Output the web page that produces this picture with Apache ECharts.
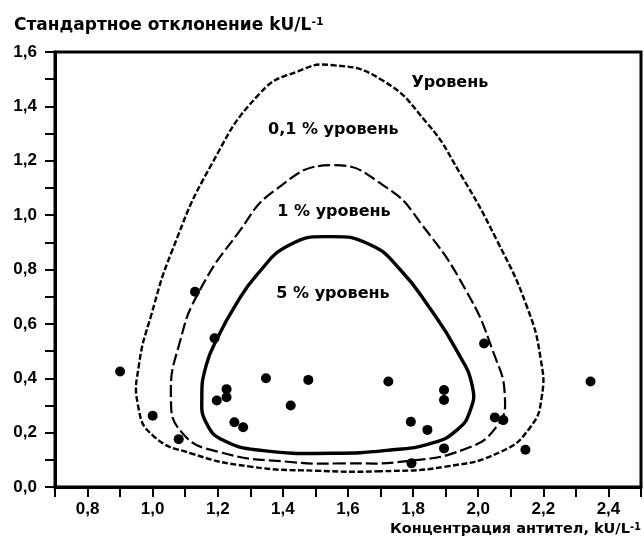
<!DOCTYPE html>
<html>
<head>
<meta charset="utf-8">
<script src="https://cdn.jsdelivr.net/npm/echarts@6/dist/echarts.min.js"></script>
<style>
  * { margin: 0; padding: 0; }
  body { background: #fff; }
  #main { width: 644px; height: 545px; }
</style>
</head>
<body>
<div id="main"></div>
<script>
// точки: концентрация антител / стандартное отклонение
var pointsX = [0.90, 1.00, 1.08, 1.13, 1.19, 1.227, 1.227, 1.197, 1.251, 1.278, 1.348, 1.478, 1.424,
  1.724, 1.895, 1.895, 1.793, 1.844, 1.895, 1.795, 2.018, 2.051, 2.077, 2.145, 2.345];
var pointsY = [0.425, 0.262, 0.176, 0.718, 0.547, 0.36, 0.33, 0.318, 0.238, 0.22, 0.40, 0.394, 0.30,
  0.388, 0.357, 0.32, 0.24, 0.21, 0.142, 0.087, 0.528, 0.256, 0.246, 0.137, 0.388];

// контур 0,1 % (замкнутый)
var outerX = [1.7, 1.5, 1.3, 1.12, 1.0, 0.955, 0.958, 0.995, 1.06, 1.176, 1.33, 1.448, 1.548,
  1.70, 1.843, 1.944, 2.057, 2.15, 2.192, 2.195, 2.16, 2.07, 1.9];
var outerY = [0.058, 0.06, 0.075, 0.123, 0.19, 0.30, 0.45, 0.63, 0.87, 1.176, 1.449, 1.53, 1.552,
  1.50, 1.338, 1.154, 0.908, 0.662, 0.47, 0.33, 0.22, 0.13, 0.075];

// контур 1 %
var midX = [1.59, 1.422, 1.2, 1.09, 1.056, 1.085, 1.145, 1.26, 1.376, 1.55,
  1.72, 1.83, 1.962, 2.045, 2.082, 2.055, 1.96, 1.78];
var midY = [0.087, 0.092, 0.13, 0.2, 0.33, 0.54, 0.724, 0.93, 1.092, 1.184,
  1.10, 0.96, 0.724, 0.5, 0.33, 0.22, 0.14, 0.095];

// контур 5 %
var innerX = [1.55, 1.34, 1.22, 1.165, 1.151, 1.165, 1.2, 1.25, 1.32, 1.42, 1.545,
  1.67, 1.76, 1.85, 1.935, 1.982, 1.975, 1.935, 1.86, 1.73];
var innerY = [0.124, 0.134, 0.17, 0.235, 0.33, 0.45, 0.55, 0.66, 0.78, 0.89, 0.921,
  0.89, 0.80, 0.66, 0.50, 0.37, 0.28, 0.21, 0.162, 0.136];

var levelNames = ['Уровень', '0,1 % уровень', '1 % уровень', '5 % уровень'];
var levelX = [1.913, 1.555, 1.557, 1.554];
var levelY = [1.485, 1.312, 1.012, 0.712];

function pairs(xs, ys) {
  return xs.map(function (x, i) { return [x, ys[i]]; });
}

function fmt(v) {
  var t = Math.round(v * 10);
  if (t % 2 !== 0) return '';
  return (t / 10).toFixed(1).replace('.', ',');
}

// замкнутый сглаженный контур через координаты осей
function contour(name, xs, ys, lineStyle) {
  return {
    name: name,
    type: 'custom',
    z: 2,
    silent: true,
    data: [[xs[0], ys[0]]],
    renderItem: function (params, api) {
      var pts = xs.map(function (x, i) { return api.coord([x, ys[i]]); });
      return {
        type: 'polygon',
        shape: { points: pts, smooth: 0.5 },
        style: {
          fill: 'none',
          stroke: '#000',
          lineWidth: lineStyle.width,
          lineDash: lineStyle.dash || null
        }
      };
    }
  };
}

var numFont = '"Liberation Sans", Arial, sans-serif';
var txtFont = '"DejaVu Sans", sans-serif';

var chart = echarts.init(document.getElementById('main'));
chart.setOption({
  animation: false,
  textStyle: { fontFamily: txtFont },
  title: {
    text: '{a|Стандартное отклонение kU/L}{s|-1}',
    left: 9,
    top: 12,
    textStyle: {
      rich: {
        a: { fontFamily: txtFont, fontSize: 17, fontWeight: 'bold', color: '#000' },
        s: { fontFamily: txtFont, fontSize: 11, fontWeight: 'bold', color: '#000', verticalAlign: 'top' }
      }
    }
  },
  grid: {
    left: 55, right: 3, top: 52, bottom: 58,
    show: true, borderColor: '#000', borderWidth: 3
  },
  xAxis: {
    type: 'value',
    min: 0.7, max: 2.5, interval: 0.1,
    name: '{a|Концентрация антител, kU/L}{s|-1}',
    nameLocation: 'end',
    nameGap: 0,
    nameTextStyle: {
      align: 'right',
      verticalAlign: 'top',
      padding: [35, 0, 0, 0],
      rich: {
        a: { fontFamily: txtFont, fontSize: 14.5, fontWeight: 'bold', color: '#000' },
        s: { fontFamily: txtFont, fontSize: 10, fontWeight: 'bold', color: '#000', verticalAlign: 'top' }
      }
    },
    axisLine: { onZero: false, lineStyle: { color: '#000', width: 3 } },
    axisTick: { length: 10, lineStyle: { color: '#000', width: 2 } },
    axisLabel: { formatter: fmt, margin: 14, fontSize: 17, fontWeight: 'bold', color: '#000', fontFamily: numFont },
    splitLine: { show: false }
  },
  yAxis: {
    type: 'value',
    min: 0, max: 1.6, interval: 0.1,
    axisLine: { onZero: false, lineStyle: { color: '#000', width: 3 } },
    axisTick: { length: 10, lineStyle: { color: '#000', width: 2 } },
    axisLabel: { formatter: fmt, margin: 18, fontSize: 17, fontWeight: 'bold', color: '#000', fontFamily: numFont },
    splitLine: { show: false }
  },
  series: [
    contour('0,1 %', outerX, outerY, { width: 2.4, dash: [6, 2.5] }),
    contour('1 %', midX, midY, { width: 2.2, dash: [12, 4] }),
    contour('5 %', innerX, innerY, { width: 3.4 }),
    {
      name: 'точки', type: 'scatter', data: pairs(pointsX, pointsY),
      symbol: 'circle', symbolSize: 10, z: 5,
      itemStyle: { color: '#000', opacity: 1 }
    },
    {
      name: 'подписи', type: 'scatter', symbolSize: 0, z: 6,
      data: levelNames.map(function (n, i) { return { name: n, value: [levelX[i], levelY[i]] }; }),
      itemStyle: { opacity: 1 },
      label: {
        show: true, position: 'inside', formatter: '{b}',
        fontFamily: txtFont, fontSize: 16, fontWeight: 'bold', color: '#000'
      }
    }
  ]
});
</script>
</body>
</html>
